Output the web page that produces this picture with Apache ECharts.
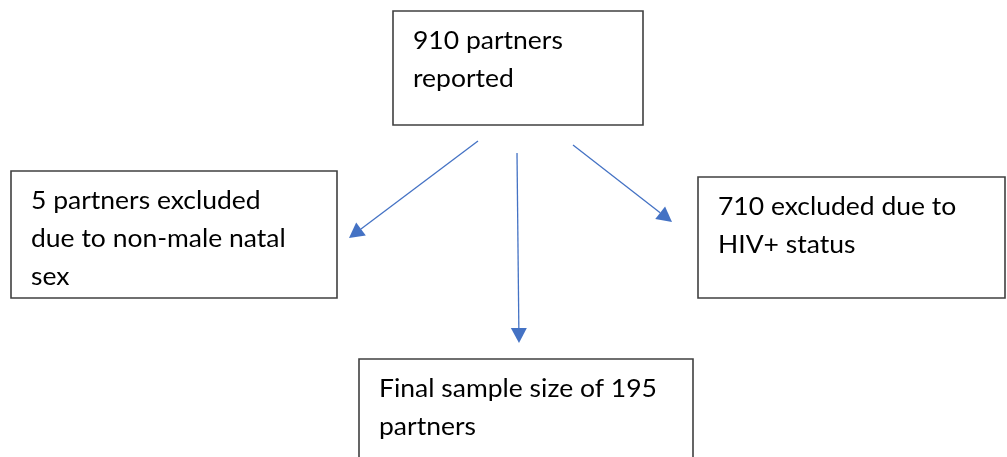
<!DOCTYPE html>
<html>
<head>
	<meta charset="utf-8">
	<title>Flow chart</title>
	<style>
		html, body { margin: 0; padding: 0; background: #fff; }
		#chart1 { width: 1007px; height: 457px; }
	</style>
</head>
<body>
	<div id="chart1"></div>
	<script src="https://cdn.jsdelivr.net/npm/echarts@6/dist/echarts.min.js"></script>
	<script type="text/javascript">

    // box texts
    var boxLabels = [
        '910 partners\nreported',
        '5 partners excluded\ndue to non-male natal\nsex',
        '710 excluded due to\nHIV+ status',
        'Final sample size of 195\npartners'
    ];
    // box corners, in page pixels
    var boxX0 = [393, 11, 698, 359];
    var boxY0 = [11, 171, 177, 359];
    var boxX1 = [643, 337, 1005, 693];
    var boxY1 = [125, 298, 298, 475];

    // arrows: start and tip
    var arrowFrom = [[478, 141], [517, 153], [573, 145]];
    var arrowTo = [[349, 238], [519, 343], [672, 222]];

    var boxData = [], arrowData = [];
    for (var i = 0; i < boxLabels.length; i++) {
        boxData.push([boxX0[i], boxY0[i], boxX1[i], boxY1[i], i]);
    }
    for (var j = 0; j < arrowFrom.length; j++) {
        arrowData.push([arrowFrom[j][0], arrowFrom[j][1], arrowTo[j][0], arrowTo[j][1]]);
    }

    function renderBox(params, api) {
        var p0 = api.coord([api.value(0), api.value(1)]);
        var p1 = api.coord([api.value(2), api.value(3)]);
        var idx = api.value(4);
        return {
            type: 'group',
            children: [
                {
                    type: 'rect',
                    shape: {x: p0[0], y: p0[1], width: p1[0] - p0[0], height: p1[1] - p0[1]},
                    style: {fill: '#fff', stroke: '#404040', lineWidth: 1.6}
                },
                {
                    type: 'text',
                    x: p0[0] + 20,
                    y: p0[1] + 11,
                    scaleX: 1.06,
                    style: {
                        text: boxLabels[idx],
                        font: '25px Lato',
                        lineHeight: 38,
                        fill: '#000',
                        align: 'left',
                        verticalAlign: 'top'
                    }
                }
            ]
        };
    }

    function renderArrow(params, api) {
        var a = api.coord([api.value(0), api.value(1)]);
        var b = api.coord([api.value(2), api.value(3)]);
        var dx = b[0] - a[0], dy = b[1] - a[1];
        var len = Math.sqrt(dx * dx + dy * dy);
        var ux = dx / len, uy = dy / len;
        var headLen = 15, headHalf = 8;
        var bx = b[0] - ux * headLen, by = b[1] - uy * headLen;
        return {
            type: 'group',
            children: [
                {
                    type: 'line',
                    shape: {x1: a[0], y1: a[1], x2: bx, y2: by},
                    style: {stroke: '#4472C4', lineWidth: 1.3}
                },
                {
                    type: 'polygon',
                    shape: {points: [
                        [b[0], b[1]],
                        [bx - uy * headHalf, by + ux * headHalf],
                        [bx + uy * headHalf, by - ux * headHalf]
                    ]},
                    style: {fill: '#4472C4'}
                }
            ]
        };
    }

    var dom = document.getElementById('chart1');
    var myChart = echarts.init(dom);
    var option = {
        animation: false,
        grid: {left: 0, right: 0, top: 0, bottom: 0},
        xAxis: {type: 'value', min: 0, max: 1007, show: false},
        yAxis: {type: 'value', min: 0, max: 457, inverse: true, show: false},
        series: [
            {
                type: 'custom',
                renderItem: renderArrow,
                data: arrowData,
                silent: true
            },
            {
                type: 'custom',
                renderItem: renderBox,
                data: boxData,
                silent: true
            }
        ]
    };
    myChart.setOption(option, true);

	</script>
</body>
</html>
